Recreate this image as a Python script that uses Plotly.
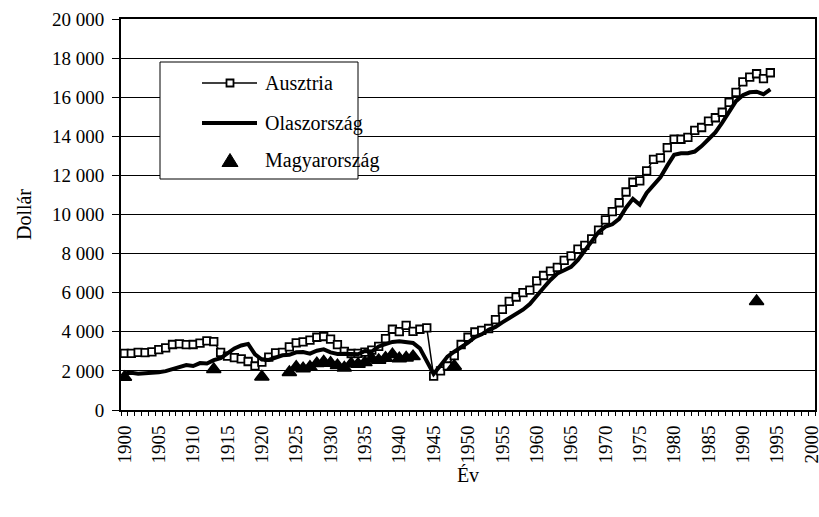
import plotly.graph_objects as go

# ---------------- data ----------------
austria_years = list(range(1900, 1995))
austria_values = [
    2900, 2900, 2950, 2930, 2970, 3090, 3180, 3350, 3380, 3340,
    3350, 3420, 3540, 3500, 2950, 2760, 2680, 2620, 2480, 2250,
    2450, 2700, 2920, 2950, 3230, 3430, 3480, 3570, 3720, 3760,
    3630, 3340, 3000, 2890, 2900, 2960, 3060, 3250, 3650, 4130,
    4010, 4330, 4020, 4130, 4200, 1730, 2000, 2250, 2780, 3350,
    3720, 3990, 4070, 4170, 4620, 5150, 5560, 5780, 6000, 6130,
    6600, 6880, 7100, 7300, 7650, 7880, 8230, 8420, 8750, 9200,
    9730, 10150, 10600, 11150, 11650, 11720, 12230, 12820, 12900, 13420,
    13850, 13850, 13950, 14300, 14450, 14780, 14950, 15230, 15740, 16250,
    16780, 17030, 17200, 16950, 17250,
]

italy_years = list(range(1900, 1995))
italy_values = [
    1880, 1900, 1860, 1870, 1880, 1930, 1990, 2110, 2230, 2300,
    2250, 2400, 2380, 2550, 2650, 2900, 3150, 3300, 3380, 2850,
    2580, 2560, 2700, 2800, 2820, 2950, 2960, 2880, 3030, 3100,
    2950, 2870, 2880, 2840, 2850, 3020, 2990, 3250, 3350, 3480,
    3520, 3490, 3430, 3150, 2500, 1850, 2280, 2730, 2980, 3200,
    3450, 3720, 3870, 4100, 4250, 4480, 4680, 4900, 5130, 5420,
    5800, 6250, 6650, 6980, 7150, 7320, 7680, 8150, 8650, 9100,
    9380, 9500, 9780, 10350, 10800, 10500, 11100, 11500, 11900, 12500,
    13050, 13130, 13130, 13220, 13500, 13850, 14200, 14700, 15250, 15800,
    16100, 16250, 16280, 16150, 16400,
]

hungary_years = [1900, 1913, 1920] + list(range(1924, 1943)) + [1948, 1992]
hungary_values = [
    1680, 2080, 1700,
    1930, 2200, 2120, 2200, 2380, 2470, 2400, 2280, 2160, 2370,
    2350, 2430, 2620, 2550, 2660, 2840, 2630, 2670, 2740,
    2250, 5560,
]

x_tick_years = list(range(1900, 2001, 5))
series_names = ["Ausztria", "Olaszország", "Magyarország"]
x_title = "Év"
y_title = "Dollár"

# ---------------- layout geometry ----------------
W, H = 819, 517
PL, PT, PW, PH = 121, 19, 694, 391
FONT = "Liberation Serif"


def px(x):
    return (x - PL) / PW


def py(y):
    return (PT + PH - y) / PH


fig = go.Figure()

fig.add_trace(go.Scatter(
    x=austria_years, y=austria_values, name=series_names[0],
    mode="lines+markers",
    line=dict(color="black", width=1.5),
    marker=dict(symbol="square", size=7.5, color="white",
                line=dict(color="black", width=1.8)),
))
fig.add_trace(go.Scatter(
    x=italy_years, y=italy_values, name=series_names[1],
    mode="lines",
    line=dict(color="black", width=4),
))
fig.add_trace(go.Scatter(
    x=hungary_years, y=hungary_values, name=series_names[2],
    mode="markers",
    marker=dict(symbol="triangle-up", size=12.5, color="black",
                line=dict(color="black", width=1.5)),
))

# ---------------- manual legend (Excel style) ----------------
shapes = [
    dict(type="rect", xref="paper", yref="paper",
         x0=px(160), x1=px(358), y0=py(179), y1=py(62),
         line=dict(color="black", width=1), fillcolor="white", layer="above"),
    dict(type="line", xref="paper", yref="paper",
         x0=px(202), x1=px(257), y0=py(83), y1=py(83),
         line=dict(color="black", width=1.5), layer="above"),
    dict(type="rect", xref="paper", yref="paper",
         x0=px(226.5), x1=px(233.5), y0=py(86.5), y1=py(79.5),
         line=dict(color="black", width=1.8), fillcolor="white", layer="above"),
    dict(type="line", xref="paper", yref="paper",
         x0=px(202), x1=px(257), y0=py(123), y1=py(123),
         line=dict(color="black", width=4), layer="above"),
    dict(type="path", xref="paper", yref="paper",
         path=f"M {px(222):.5f},{py(166.5):.5f} L {px(238):.5f},{py(166.5):.5f} "
              f"L {px(230):.5f},{py(153.5):.5f} Z",
         line=dict(color="black", width=1), fillcolor="black", layer="above"),
]
annotations = []
for name, yy in zip(series_names, [83, 123, 160]):
    annotations.append(dict(
        x=px(263), y=py(yy), xref="paper", yref="paper",
        text=name, showarrow=False, xanchor="left", yanchor="middle",
        font=dict(family=FONT, size=20, color="black"),
    ))

fig.update_layout(
    width=W, height=H,
    margin=dict(l=PL, r=W - PL - PW, t=PT, b=H - PT - PH, pad=0,
                autoexpand=False),
    paper_bgcolor="white", plot_bgcolor="white",
    font=dict(family=FONT, size=19, color="black"),
    separators=", ",
    showlegend=False,
    shapes=shapes,
    annotations=annotations,
)

fig.update_xaxes(
    range=[1899.5, 2000.5],
    tickmode="array", tickvals=x_tick_years,
    ticktext=[str(v) for v in x_tick_years],
    tickangle=-90,
    ticks="",
    ticklabeloverflow="allow",
    minor=dict(ticks="outside", tick0=1899.5, dtick=1, ticklen=4,
               tickcolor="black", tickwidth=1, showgrid=False),
    showgrid=False, zeroline=False,
    showline=True, linecolor="black", linewidth=2, mirror=True,
    automargin=False,
    ticklabelstandoff=6,
    tickfont=dict(family=FONT, size=19, color="black"),
    title=dict(text=x_title, font=dict(family=FONT, size=20, color="black"),
               standoff=4),
)

fig.update_yaxes(
    range=[0, 20000],
    tickmode="linear", tick0=0, dtick=2000,
    tickformat=",d",
    ticks="outside", ticklen=7, tickcolor="black", tickwidth=1,
    showgrid=True, gridcolor="black", gridwidth=1,
    zeroline=False,
    showline=True, linecolor="black", linewidth=2, mirror=True,
    automargin=False,
    ticklabelstandoff=4,
    tickfont=dict(family=FONT, size=19, color="black"),
    title=dict(text=y_title, font=dict(family=FONT, size=20, color="black"),
               standoff=15),
)

fig.write_html(
    "out.html",
    config={"displayModeBar": False},
    post_script="document.body.style.margin='0px';"
                "document.body.style.overflow='hidden';",
)
